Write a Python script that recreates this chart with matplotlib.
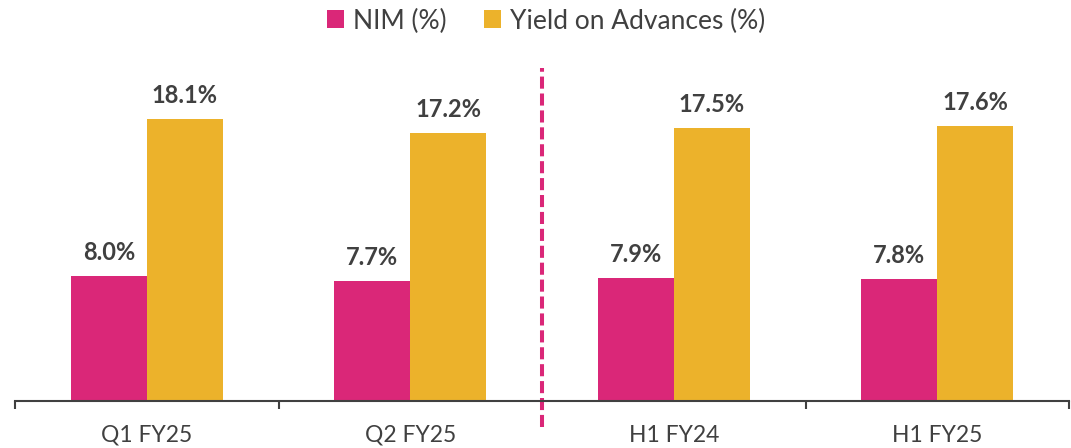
import matplotlib
matplotlib.use("Agg")
import matplotlib.pyplot as plt
from matplotlib.ticker import FixedLocator
import numpy as np

plt.rcParams["font.family"] = ["Lato", "DejaVu Sans"]

categories = ["Q1 FY25", "Q2 FY25", "H1 FY24", "H1 FY25"]
nim = [8.0, 7.7, 7.9, 7.8]
yield_adv = [18.1, 17.2, 17.5, 17.6]
series_names = ["NIM (%)", "Yield on Advances (%)"]

PINK = "#DA2778"
GOLD = "#ECB22B"
TXT = "#404040"

fig = plt.figure(figsize=(10.71, 4.48), dpi=100)
ax = fig.add_axes([15 / 1071, 47 / 448, 1054 / 1071, 312 / 448])

x = np.arange(len(categories))
w = 0.288
b1 = ax.bar(x - w / 2, nim, w, color=PINK, label=series_names[0])
b2 = ax.bar(x + w / 2, yield_adv, w, color=GOLD, label=series_names[1])

for bars in (b1, b2):
    for r in bars:
        ax.annotate(f"{r.get_height():.1f}%", (r.get_x() + r.get_width() / 2, r.get_height()),
                    xytext=(0, 11.5), textcoords="offset points", ha="center", va="baseline",
                    fontsize=17, fontweight="bold", color=TXT)

ax.set_xlim(-0.5, len(categories) - 0.5)
ax.set_ylim(0, 20)
ax.set_yticks([])
for s in ("top", "right", "left"):
    ax.spines[s].set_visible(False)
ax.spines["bottom"].set_color(TXT)
ax.spines["bottom"].set_linewidth(1.5)

ax.set_xticks(x)
ax.set_xticklabels(categories, fontsize=16.5, color=TXT)
ax.tick_params(axis="x", which="major", length=0, pad=17)
ax.xaxis.set_minor_locator(FixedLocator(np.arange(-0.5, len(categories), 1.0)))
ax.tick_params(axis="x", which="minor", length=6, width=1.5, color=TXT, direction="out")

# separator between quarters and halves
ax.axvline(1.5, ymin=-0.083, ymax=1.067, color=PINK, lw=2.9, ls=(0, (3, 1.2)), clip_on=False)

fig.legend(loc="center", bbox_to_anchor=(546 / 1071, 1 - 21 / 448), ncol=2, frameon=False,
           fontsize=19, handlelength=0.65, handleheight=0.65, handletextpad=0.35,
           columnspacing=1.4, labelcolor=TXT)

fig.savefig("out.png", dpi=100)
